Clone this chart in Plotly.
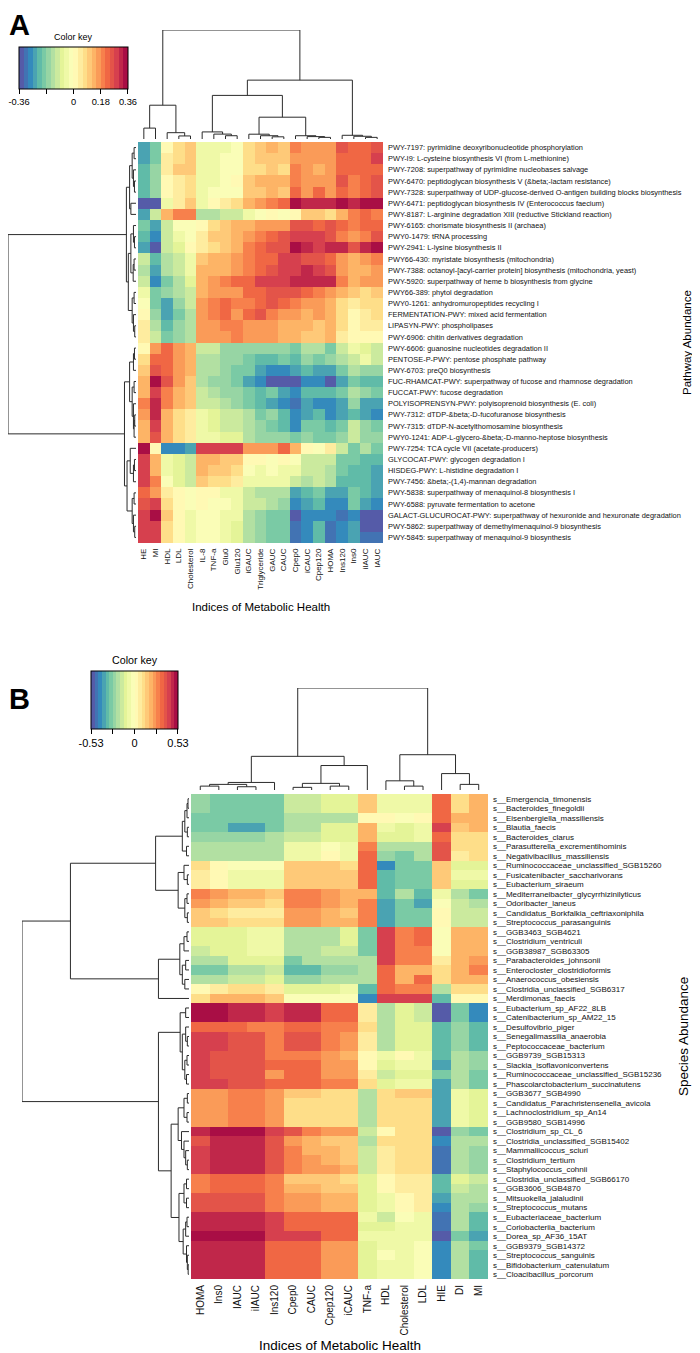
import numpy as np
import plotly.graph_objects as go

# the page puts the figure 8 px in from the top-left corner; pixel positions below are
# window pixels, so the figure itself is 8 px smaller than the window
W, H = 700, 1353
OFF = 8
FIG_W, FIG_H = W - OFF, H - OFF
FONT = "Liberation Sans, Arial, sans-serif"
LINE = "#2b2b2b"

SPECTRAL_REV = ["#5E4FA2", "#3288BD", "#66C2A5", "#ABDDA4", "#E6F598", "#FFFFBF",
                "#FEE08B", "#FDAE61", "#F46D43", "#D53E4F", "#9E0142"]
N_BANDS = 24

# ---------------- panel A: pathways ----------------
a_cols = ["HE", "MI", "HDL", "LDL", "Cholesterol", "IL-8", "TNF-a", "Glu0", "Glu120",
          "iGAUC", "Triglyceride", "GAUC", "CAUC", "Cpep0", "iCAUC", "Cpep120", "HOMA",
          "Ins120", "Ins0", "iIAUC", "IAUC"]

a_rows = [
    "PWY-7197: pyrimidine deoxyribonucleotide phosphorylation",
    "PWY-I9: L-cysteine biosynthesis VI (from L-methionine)",
    "PWY-7208: superpathway of pyrimidine nucleobases salvage",
    "PWY-6470: peptidoglycan biosynthesis V (&beta;-lactam resistance)",
    "PWY-7328: superpathway of UDP-glucose-derived O-antigen building blocks biosynthesis",
    "PWY-6471: peptidoglycan biosynthesis IV (Enterococcus faecium)",
    "PWY-8187: L-arginine degradation XIII (reductive Stickland reaction)",
    "PWY-6165: chorismate biosynthesis II (archaea)",
    "PWY0-1479: tRNA processing",
    "PWY-2941: L-lysine biosynthesis II",
    "PWY66-430: myristate biosynthesis (mitochondria)",
    "PWY-7388: octanoyl-[acyl-carrier protein] biosynthesis (mitochondria, yeast)",
    "PWY-5920: superpathway of heme b biosynthesis from glycine",
    "PWY66-389: phytol degradation",
    "PWY0-1261: anhydromuropeptides recycling I",
    "FERMENTATION-PWY: mixed acid fermentation",
    "LIPASYN-PWY: phospholipases",
    "PWY-6906: chitin derivatives degradation",
    "PWY-6606: guanosine nucleotides degradation II",
    "PENTOSE-P-PWY: pentose phosphate pathway",
    "PWY-6703: preQ0 biosynthesis",
    "FUC-RHAMCAT-PWY: superpathway of fucose and rhamnose degradation",
    "FUCCAT-PWY: fucose degradation",
    "POLYISOPRENSYN-PWY: polyisoprenoid biosynthesis (E. coli)",
    "PWY-7312: dTDP-&beta;-D-fucofuranose biosynthesis",
    "PWY-7315: dTDP-N-acetylthomosamine biosynthesis",
    "PWY0-1241: ADP-L-glycero-&beta;-D-manno-heptose biosynthesis",
    "PWY-7254: TCA cycle VII (acetate-producers)",
    "GLYCOCAT-PWY: glycogen degradation I",
    "HISDEG-PWY: L-histidine degradation I",
    "PWY-7456: &beta;-(1,4)-mannan degradation",
    "PWY-5838: superpathway of menaquinol-8 biosynthesis I",
    "PWY-6588: pyruvate fermentation to acetone",
    "GALACT-GLUCUROCAT-PWY: superpathway of hexuronide and hexuronate degradation",
    "PWY-5862: superpathway of demethylmenaquinol-9 biosynthesis",
    "PWY-5845: superpathway of menaquinol-9 biosynthesis",
]

a_vals = [
    [-0.27, -0.20, 0.02, 0.06, 0.09, -0.05, -0.06, -0.04, -0.02, 0.08, 0.10, 0.12, 0.09, 0.20, 0.17, 0.17, 0.18, 0.24, 0.23, 0.23, 0.25],
    [-0.26, -0.19, 0.03, 0.07, 0.10, -0.04, -0.05, -0.03, -0.02, 0.08, 0.11, 0.10, 0.10, 0.18, 0.17, 0.16, 0.16, 0.22, 0.22, 0.22, 0.27],
    [-0.24, -0.17, 0.04, 0.09, 0.11, -0.05, -0.05, -0.03, -0.01, 0.08, 0.08, 0.09, 0.07, 0.19, 0.16, 0.14, 0.17, 0.21, 0.22, 0.21, 0.23],
    [-0.24, -0.18, 0.02, 0.04, 0.07, -0.06, -0.04, -0.01, 0.00, 0.11, 0.12, 0.12, 0.12, 0.20, 0.17, 0.18, 0.16, 0.25, 0.20, 0.22, 0.26],
    [-0.22, -0.18, 0.00, 0.05, 0.06, -0.04, -0.03, -0.01, -0.02, 0.10, 0.11, 0.12, 0.10, 0.21, 0.18, 0.21, 0.17, 0.23, 0.20, 0.22, 0.24],
    [-0.33, -0.33, -0.04, 0.03, 0.09, -0.05, 0.01, 0.05, 0.08, 0.15, 0.18, 0.19, 0.23, 0.33, 0.30, 0.30, 0.30, 0.36, 0.31, 0.35, 0.35],
    [-0.25, -0.12, 0.14, 0.20, 0.20, -0.13, -0.13, -0.12, -0.10, -0.04, -0.02, 0.00, -0.02, 0.02, 0.10, 0.11, 0.08, 0.15, 0.20, 0.21, 0.20],
    [-0.20, -0.27, -0.10, -0.03, -0.01, 0.02, 0.07, 0.10, 0.12, 0.15, 0.17, 0.17, 0.18, 0.26, 0.25, 0.22, 0.25, 0.23, 0.20, 0.22, 0.22],
    [-0.22, -0.28, -0.12, -0.06, -0.03, 0.05, 0.09, 0.11, 0.13, 0.17, 0.20, 0.22, 0.24, 0.28, 0.27, 0.27, 0.25, 0.20, 0.17, 0.20, 0.25],
    [-0.27, -0.33, -0.12, -0.07, 0.00, 0.05, 0.07, 0.10, 0.14, 0.20, 0.22, 0.25, 0.26, 0.36, 0.32, 0.27, 0.32, 0.30, 0.25, 0.30, 0.33],
    [-0.12, -0.22, -0.13, -0.10, -0.05, 0.10, 0.12, 0.14, 0.16, 0.20, 0.21, 0.22, 0.27, 0.28, 0.26, 0.24, 0.22, 0.18, 0.14, 0.16, 0.20],
    [-0.13, -0.27, -0.15, -0.10, -0.06, 0.12, 0.14, 0.15, 0.18, 0.20, 0.22, 0.24, 0.27, 0.28, 0.30, 0.28, 0.24, 0.17, 0.15, 0.14, 0.16],
    [-0.10, -0.30, -0.20, -0.14, -0.07, 0.15, 0.17, 0.20, 0.22, 0.23, 0.27, 0.29, 0.29, 0.31, 0.31, 0.30, 0.31, 0.20, 0.15, 0.17, 0.18],
    [-0.05, -0.20, -0.18, -0.15, -0.11, 0.15, 0.17, 0.18, 0.18, 0.22, 0.22, 0.24, 0.26, 0.24, 0.22, 0.20, 0.18, 0.12, 0.10, 0.08, 0.09],
    [-0.02, -0.20, -0.26, -0.18, -0.12, 0.17, 0.20, 0.22, 0.19, 0.20, 0.22, 0.24, 0.22, 0.20, 0.16, 0.16, 0.12, 0.08, 0.03, 0.06, 0.07],
    [0.00, -0.18, -0.26, -0.20, -0.14, 0.17, 0.20, 0.23, 0.18, 0.22, 0.25, 0.20, 0.18, 0.18, 0.14, 0.18, 0.14, 0.06, 0.01, 0.05, 0.06],
    [0.03, -0.15, -0.24, -0.18, -0.14, 0.17, 0.17, 0.20, 0.20, 0.18, 0.18, 0.18, 0.14, 0.12, 0.14, 0.11, 0.12, 0.06, 0.00, 0.04, 0.03],
    [0.03, -0.12, -0.20, -0.18, -0.14, 0.17, 0.16, 0.17, 0.20, 0.17, 0.17, 0.17, 0.12, 0.12, 0.10, 0.10, 0.12, 0.05, 0.01, 0.02, 0.02],
    [0.02, 0.16, 0.22, 0.17, 0.12, -0.12, -0.12, -0.18, -0.18, -0.18, -0.16, -0.18, -0.18, -0.20, -0.15, -0.15, -0.20, -0.10, -0.06, -0.08, -0.10],
    [0.08, 0.22, 0.22, 0.18, 0.13, -0.13, -0.13, -0.18, -0.18, -0.20, -0.24, -0.22, -0.20, -0.22, -0.18, -0.20, -0.18, -0.15, -0.10, -0.06, -0.12],
    [0.10, 0.26, 0.23, 0.17, 0.13, -0.13, -0.14, -0.18, -0.20, -0.20, -0.27, -0.28, -0.28, -0.27, -0.22, -0.25, -0.27, -0.20, -0.14, -0.16, -0.17],
    [0.15, 0.33, 0.25, 0.17, 0.10, -0.13, -0.17, -0.18, -0.20, -0.26, -0.30, -0.33, -0.33, -0.35, -0.28, -0.28, -0.33, -0.25, -0.20, -0.22, -0.22],
    [0.14, 0.28, 0.20, 0.15, 0.10, -0.12, -0.14, -0.16, -0.18, -0.20, -0.22, -0.20, -0.25, -0.28, -0.22, -0.22, -0.24, -0.20, -0.14, -0.17, -0.20],
    [0.20, 0.30, 0.20, 0.14, 0.10, -0.12, -0.10, -0.15, -0.18, -0.20, -0.22, -0.25, -0.28, -0.32, -0.25, -0.28, -0.30, -0.25, -0.18, -0.27, -0.27],
    [0.17, 0.30, 0.15, 0.07, 0.05, -0.06, -0.08, -0.10, -0.10, -0.15, -0.20, -0.18, -0.22, -0.28, -0.25, -0.22, -0.30, -0.27, -0.24, -0.25, -0.30],
    [0.14, 0.27, 0.15, 0.06, 0.03, -0.06, -0.07, -0.10, -0.10, -0.14, -0.18, -0.20, -0.22, -0.28, -0.20, -0.20, -0.24, -0.20, -0.12, -0.18, -0.20],
    [0.15, 0.25, 0.15, 0.08, 0.05, -0.06, -0.05, -0.08, -0.08, -0.14, -0.16, -0.17, -0.18, -0.20, -0.16, -0.20, -0.20, -0.18, -0.12, -0.16, -0.18],
    [0.33, 0.02, -0.28, -0.28, -0.25, 0.28, 0.28, 0.28, 0.28, 0.16, 0.16, 0.16, 0.21, 0.15, 0.02, -0.02, 0.03, -0.12, -0.20, -0.14, -0.20],
    [0.28, 0.13, -0.06, -0.08, -0.12, 0.13, 0.14, 0.11, 0.10, 0.00, 0.00, -0.02, 0.00, -0.02, -0.12, -0.12, -0.12, -0.20, -0.20, -0.22, -0.24],
    [0.27, 0.15, -0.04, -0.07, -0.10, 0.12, 0.10, 0.10, 0.06, -0.02, -0.04, -0.03, -0.04, -0.06, -0.12, -0.12, -0.13, -0.20, -0.22, -0.22, -0.25],
    [0.28, 0.20, -0.03, -0.08, -0.12, 0.10, 0.07, 0.06, 0.05, -0.04, -0.05, -0.06, -0.05, -0.10, -0.13, -0.10, -0.14, -0.22, -0.22, -0.22, -0.27],
    [0.22, 0.17, 0.05, 0.00, -0.03, 0.00, 0.00, -0.04, -0.04, -0.12, -0.14, -0.14, -0.14, -0.27, -0.22, -0.20, -0.25, -0.26, -0.20, -0.24, -0.26],
    [0.24, 0.27, 0.08, 0.00, -0.02, 0.00, -0.01, -0.02, -0.05, -0.12, -0.12, -0.13, -0.16, -0.28, -0.26, -0.22, -0.28, -0.28, -0.20, -0.26, -0.28],
    [0.28, 0.33, 0.10, 0.02, -0.04, -0.02, -0.03, -0.04, -0.06, -0.15, -0.16, -0.20, -0.20, -0.33, -0.28, -0.28, -0.30, -0.32, -0.28, -0.33, -0.33],
    [0.28, 0.28, 0.08, 0.02, -0.04, -0.02, -0.02, -0.05, -0.07, -0.15, -0.18, -0.20, -0.20, -0.32, -0.28, -0.24, -0.32, -0.30, -0.26, -0.33, -0.33],
    [0.28, 0.28, 0.08, 0.02, -0.05, -0.01, -0.02, -0.05, -0.08, -0.13, -0.17, -0.20, -0.20, -0.32, -0.28, -0.24, -0.32, -0.30, -0.26, -0.32, -0.32],
]

a_lim = 0.36
a_key_ticks = [-0.3599, -0.18, 0, 0.18, 0.3599]
a_key_text = ["-0.36", "", "0", "0.18", "0.36"]

# trees: (merge height, left, right); leaves are column / row indices
a_col_tree = (1.0,
              (0.31, (0.10, 0, 1), (0.058, 2, (0.028, 3, 4))),
              (0.54,
               (0.40,
                (0.065, 5, (0.045, 6, (0.03, 7, 8))),
                (0.20, (0.044, 9, (0.03, 10, (0.02, 11, 12))),
                 (0.03, 13, (0.022, 14, (0.015, 15, 16))))),
               (0.034, 17, (0.025, 18, (0.015, 19, 20)))))

a_row_tree = (1.0,
              (0.075,
               (0.05, (0.03, (0.015, 0, 1), (0.02, 2, (0.012, 3, 4))), (0.04, 5, 6)),
               (0.06, (0.04, (0.02, 7, (0.012, 8, 9)), (0.022, (0.015, 10, 11), 12)),
                (0.03, (0.015, 13, 14), (0.02, 15, (0.01, 16, 17))))),
              (0.09,
               (0.05, (0.02, (0.012, 18, 19), 20),
                (0.03, (0.015, 21, 22), (0.02, 23, (0.015, (0.01, 24, 25), 26)))),
               (0.07, (0.045, 27, (0.02, (0.012, 28, 29), 30)),
                (0.03, (0.015, 31, 32), (0.02, 33, (0.01, 34, 35))))))

# ---------------- panel B: species ----------------
b_cols = ["HOMA", "Ins0", "IAUC", "iIAUC", "Ins120", "Cpep0", "CAUC", "Cpep120", "iCAUC",
          "TNF-a", "HDL", "Cholesterol", "LDL", "HIE", "DI", "MI"]

b_rows = [
    "s__Emergencia_timonensis", "s__Bacteroides_finegoldii", "s__Eisenbergiella_massiliensis",
    "s__Blautia_faecis", "s__Bacteroides_clarus", "s__Parasutterella_excrementihominis",
    "s__Negativibacillus_massiliensis", "s__Ruminococcaceae_unclassified_SGB15260",
    "s__Fusicatenibacter_saccharivorans", "s__Eubacterium_siraeum",
    "s__Mediterraneibacter_glycyrrhizinilyticus", "s__Odoribacter_laneus",
    "s__Candidatus_Borkfalkia_ceftriaxoniphila", "s__Streptococcus_parasanguinis",
    "s__GGB3463_SGB4621", "s__Clostridium_ventriculi", "s__GGB38987_SGB63305",
    "s__Parabacteroides_johnsonii", "s__Enterocloster_clostridioformis",
    "s__Anaerococcus_obesiensis", "s__Clostridia_unclassified_SGB6317", "s__Merdimonas_faecis",
    "s__Eubacterium_sp_AF22_8LB", "s__Catenibacterium_sp_AM22_15", "s__Desulfovibrio_piger",
    "s__Senegalimassilia_anaerobia", "s__Peptococcaceae_bacterium", "s__GGB9739_SGB15313",
    "s__Slackia_isoflavoniconvertens", "s__Ruminococcaceae_unclassified_SGB15236",
    "s__Phascolarctobacterium_succinatutens", "s__GGB3677_SGB4990",
    "s__Candidatus_Parachristensenella_avicola", "s__Lachnoclostridium_sp_An14",
    "s__GGB9580_SGB14996", "s__Clostridium_sp_CL_6", "s__Clostridia_unclassified_SGB15402",
    "s__Mammaliicoccus_sciuri", "s__Clostridium_tertium", "s__Staphylococcus_cohnii",
    "s__Clostridia_unclassified_SGB66170", "s__GGB3606_SGB4870", "s__Mitsuokella_jalaludinii",
    "s__Streptococcus_mutans", "s__Eubacteriaceae_bacterium", "s__Coriobacteriia_bacterium",
    "s__Dorea_sp_AF36_15AT", "s__GGB9379_SGB14372", "s__Streptococcus_sanguinis",
    "s__Bifidobacterium_catenulatum", "s__Cloacibacillus_porcorum",
]

b_vals = [
    [-0.25, -0.30, -0.30, -0.30, -0.27, -0.17, -0.17, -0.12, -0.12, 0.14, -0.05, -0.08, -0.05, 0.33, 0.13, 0.18],
    [-0.25, -0.30, -0.30, -0.30, -0.27, -0.17, -0.17, -0.12, -0.12, 0.14, -0.05, -0.08, -0.08, 0.33, 0.13, 0.18],
    [-0.30, -0.30, -0.30, -0.30, -0.27, -0.20, -0.20, -0.18, -0.18, 0.03, 0.02, -0.03, 0.00, 0.33, 0.18, 0.22],
    [-0.30, -0.30, -0.36, -0.36, -0.27, -0.18, -0.18, -0.12, -0.12, 0.20, -0.08, -0.10, -0.08, 0.42, 0.14, 0.18],
    [-0.25, -0.23, -0.23, -0.23, -0.22, -0.14, -0.14, -0.10, -0.10, 0.18, -0.10, -0.12, -0.06, 0.33, 0.12, 0.13],
    [-0.22, -0.22, -0.22, -0.22, -0.20, -0.06, -0.06, -0.02, -0.05, 0.28, -0.20, -0.20, -0.20, 0.38, 0.10, 0.13],
    [-0.20, -0.20, -0.22, -0.22, -0.20, -0.05, -0.05, 0.00, -0.06, 0.32, -0.24, -0.30, -0.22, 0.36, 0.05, 0.12],
    [0.10, 0.03, -0.03, -0.03, -0.03, 0.17, 0.17, 0.17, 0.12, 0.33, -0.40, -0.30, -0.30, 0.14, -0.10, -0.10],
    [0.08, 0.02, -0.05, -0.05, -0.05, 0.14, 0.14, 0.14, 0.14, 0.33, -0.32, -0.30, -0.30, 0.16, -0.08, -0.08],
    [0.08, 0.02, -0.05, -0.05, -0.05, 0.14, 0.14, 0.14, 0.14, 0.33, -0.32, -0.27, -0.27, 0.14, -0.10, -0.12],
    [0.30, 0.24, 0.20, 0.20, 0.16, 0.30, 0.30, 0.25, 0.20, 0.20, -0.32, -0.22, -0.32, -0.06, -0.20, -0.27],
    [0.24, 0.20, 0.15, 0.15, 0.10, 0.27, 0.27, 0.24, 0.18, 0.27, -0.36, -0.27, -0.36, -0.03, -0.15, -0.20],
    [0.16, 0.10, 0.06, 0.06, 0.06, 0.24, 0.24, 0.22, 0.16, 0.27, -0.36, -0.27, -0.27, 0.04, -0.14, -0.14],
    [0.16, 0.14, 0.10, 0.10, 0.10, 0.25, 0.25, 0.20, 0.18, 0.27, -0.36, -0.27, -0.27, 0.02, -0.14, -0.14],
    [-0.12, -0.10, -0.10, -0.06, -0.06, -0.18, -0.18, -0.18, -0.12, -0.30, 0.40, 0.30, 0.35, -0.03, 0.18, 0.18],
    [-0.12, -0.10, -0.10, -0.06, -0.06, -0.18, -0.18, -0.18, -0.12, -0.30, 0.40, 0.30, 0.35, -0.03, 0.18, 0.18],
    [-0.14, -0.12, -0.10, -0.08, -0.08, -0.20, -0.20, -0.17, -0.15, -0.30, 0.40, 0.30, 0.30, -0.03, 0.18, 0.18],
    [-0.18, -0.18, -0.12, -0.12, -0.10, -0.27, -0.22, -0.20, -0.20, -0.22, 0.40, 0.30, 0.30, 0.05, 0.18, 0.25],
    [-0.27, -0.27, -0.20, -0.20, -0.16, -0.32, -0.32, -0.24, -0.24, -0.20, 0.35, 0.22, 0.22, 0.12, 0.20, 0.30],
    [-0.20, -0.20, -0.17, -0.17, -0.13, -0.25, -0.25, -0.22, -0.18, -0.18, 0.35, 0.22, 0.32, 0.12, 0.20, 0.20],
    [0.02, 0.08, 0.10, 0.10, 0.06, -0.12, -0.12, -0.12, -0.08, -0.32, 0.35, 0.30, 0.30, -0.20, 0.10, 0.10],
    [0.13, 0.20, 0.20, 0.20, 0.15, -0.03, -0.03, -0.03, -0.03, -0.42, 0.40, 0.40, 0.40, -0.35, 0.02, 0.02],
    [0.53, 0.53, 0.48, 0.48, 0.42, 0.45, 0.45, 0.35, 0.35, 0.08, -0.20, -0.12, -0.15, -0.50, -0.30, -0.42],
    [0.53, 0.53, 0.48, 0.48, 0.42, 0.45, 0.45, 0.35, 0.35, 0.08, -0.20, -0.12, -0.15, -0.50, -0.30, -0.42],
    [0.35, 0.35, 0.35, 0.30, 0.30, 0.35, 0.35, 0.30, 0.30, 0.10, -0.20, -0.12, -0.12, -0.32, -0.24, -0.32],
    [0.42, 0.42, 0.37, 0.37, 0.30, 0.38, 0.38, 0.30, 0.25, 0.08, -0.20, -0.12, -0.12, -0.32, -0.24, -0.32],
    [0.42, 0.42, 0.37, 0.37, 0.30, 0.38, 0.38, 0.30, 0.25, 0.08, -0.20, -0.12, -0.12, -0.32, -0.24, -0.32],
    [0.40, 0.38, 0.38, 0.38, 0.30, 0.30, 0.30, 0.24, 0.22, 0.03, -0.06, 0.00, -0.06, -0.32, -0.20, -0.25],
    [0.40, 0.38, 0.38, 0.38, 0.35, 0.35, 0.35, 0.26, 0.26, 0.04, -0.12, -0.06, -0.08, -0.38, -0.20, -0.24],
    [0.40, 0.38, 0.38, 0.38, 0.26, 0.32, 0.32, 0.26, 0.26, 0.08, -0.16, -0.10, -0.10, -0.30, -0.20, -0.27],
    [0.42, 0.42, 0.38, 0.38, 0.33, 0.33, 0.33, 0.28, 0.28, 0.10, -0.12, -0.08, -0.08, -0.36, -0.20, -0.30],
    [0.25, 0.25, 0.30, 0.30, 0.24, 0.14, 0.14, 0.10, 0.10, -0.20, 0.12, 0.17, 0.14, -0.36, -0.08, -0.10],
    [0.25, 0.25, 0.30, 0.30, 0.24, 0.12, 0.12, 0.10, 0.10, -0.20, 0.10, 0.12, 0.12, -0.36, -0.08, -0.10],
    [0.25, 0.25, 0.30, 0.30, 0.24, 0.12, 0.12, 0.10, 0.10, -0.20, 0.10, 0.12, 0.12, -0.36, -0.08, -0.10],
    [0.25, 0.25, 0.30, 0.30, 0.24, 0.12, 0.12, 0.10, 0.10, -0.20, 0.10, 0.12, 0.12, -0.36, -0.08, -0.10],
    [0.48, 0.53, 0.53, 0.53, 0.42, 0.38, 0.30, 0.24, 0.24, -0.15, 0.00, 0.10, 0.12, -0.50, -0.25, -0.30],
    [0.38, 0.45, 0.45, 0.45, 0.38, 0.24, 0.20, 0.17, 0.17, -0.20, 0.10, 0.10, 0.12, -0.42, -0.20, -0.22],
    [0.40, 0.45, 0.45, 0.45, 0.38, 0.27, 0.20, 0.20, 0.17, -0.17, 0.06, 0.10, 0.12, -0.46, -0.20, -0.25],
    [0.40, 0.45, 0.45, 0.45, 0.38, 0.27, 0.24, 0.20, 0.17, -0.17, 0.06, 0.10, 0.12, -0.46, -0.20, -0.25],
    [0.40, 0.45, 0.45, 0.45, 0.38, 0.27, 0.24, 0.24, 0.20, -0.17, 0.06, 0.10, 0.12, -0.46, -0.20, -0.25],
    [0.30, 0.33, 0.33, 0.33, 0.28, 0.17, 0.17, 0.14, 0.12, -0.12, 0.02, 0.06, 0.08, -0.33, -0.12, -0.15],
    [0.30, 0.33, 0.33, 0.33, 0.28, 0.20, 0.20, 0.16, 0.16, -0.10, 0.00, 0.05, 0.08, -0.33, -0.14, -0.18],
    [0.36, 0.36, 0.38, 0.38, 0.30, 0.26, 0.26, 0.20, 0.20, -0.10, -0.06, 0.03, 0.06, -0.38, -0.18, -0.22],
    [0.36, 0.38, 0.38, 0.38, 0.30, 0.26, 0.26, 0.22, 0.22, -0.10, -0.06, 0.03, 0.06, -0.42, -0.18, -0.25],
    [0.48, 0.48, 0.48, 0.48, 0.40, 0.35, 0.35, 0.32, 0.32, -0.08, -0.14, -0.02, -0.06, -0.48, -0.22, -0.33],
    [0.48, 0.48, 0.48, 0.45, 0.40, 0.35, 0.35, 0.32, 0.32, -0.10, -0.10, -0.06, -0.06, -0.46, -0.22, -0.33],
    [0.53, 0.53, 0.53, 0.53, 0.42, 0.40, 0.40, 0.32, 0.32, -0.08, -0.08, -0.06, -0.06, -0.50, -0.30, -0.36],
    [0.45, 0.45, 0.45, 0.45, 0.35, 0.32, 0.32, 0.25, 0.25, -0.10, -0.06, -0.06, -0.04, -0.42, -0.18, -0.30],
    [0.45, 0.45, 0.45, 0.45, 0.35, 0.32, 0.32, 0.25, 0.25, -0.10, -0.03, -0.06, -0.02, -0.42, -0.20, -0.32],
    [0.45, 0.45, 0.45, 0.45, 0.35, 0.32, 0.32, 0.25, 0.25, -0.10, -0.06, -0.06, -0.02, -0.42, -0.20, -0.32],
    [0.45, 0.45, 0.45, 0.45, 0.35, 0.32, 0.32, 0.25, 0.25, -0.10, -0.06, -0.06, -0.02, -0.42, -0.20, -0.32],
]

b_lim = 0.53
b_key_ticks = [-0.5299, -0.265, 0, 0.265, 0.5299]
b_key_text = ["-0.53", "", "0", "", "0.53"]

b_col_tree = (1.0,
              (0.33,
               (0.074, (0.055, (0.038, 0, 1), (0.032, 2, 3)), 4),
               (0.24, (0.065, (0.026, 5, 6), (0.038, 7, 8)), 9)),
              (0.346, (0.09, 10, (0.038, 11, 12)), (0.161, 13, (0.055, 14, 15))))

b_row_tree = (1.0,
              (0.71,
               (0.2,
                (0.04, (0.025, (0.012, (0.006, 0, 1), 2), (0.01, 3, 4)), (0.015, 5, 6)),
                (0.065, (0.03, 7, (0.01, 8, 9)), (0.025, (0.012, 10, 11), (0.01, 12, 13)))),
               (0.183,
                (0.055, (0.03, (0.012, 14, 15), 16), (0.04, (0.02, 17, 18), (0.025, 19, 20))),
                21)),
              (0.183,
               (0.053, (0.02, 22, 23),
                (0.04, (0.02, 24, (0.01, 25, 26)), (0.025, (0.012, 27, 28), (0.015, 29, 30)))),
               (0.107,
                (0.065, (0.03, (0.01, 31, 32), (0.012, 33, 34)),
                 (0.045, 35, (0.03, 36, (0.02, 37, (0.01, 38, 39))))),
                (0.06, (0.03, (0.015, 40, 41), (0.015, 42, 43)),
                 (0.035, (0.02, (0.012, 44, 45), 46), (0.015, 47, (0.01, 48, (0.005, 49, 50))))))))


def px_x(p):
    return max(p - OFF, 0) / FIG_W


def px_y(p):
    return 1 - max(p - OFF, 0) / FIG_H


def stepped_scale(n):
    base = np.array([[int(c[i:i + 2], 16) for i in (1, 3, 5)] for c in SPECTRAL_REV], float)
    pos = np.linspace(0, 1, len(base))
    out = []
    for k in range(n):
        t = (k + 0.5) / n
        rgb = [int(round(np.interp(t, pos, base[:, j]))) for j in range(3)]
        col = "rgb(%d,%d,%d)" % tuple(rgb)
        out += [[k / n, col], [(k + 1) / n, col]]
    return out


def dendro_lines(tree):
    pos, hgt = [], []

    def walk(node):
        if isinstance(node, int):
            return float(node), 0.0
        h, left, right = node
        p1, h1 = walk(left)
        p2, h2 = walk(right)
        pos.extend([p1, p1, p2, p2, None])
        hgt.extend([h1, h, h, h2, None])
        return (p1 + p2) / 2, h

    walk(tree)
    return pos, hgt


def esc(s):
    return s.replace("&", "&amp;")


scale = stepped_scale(N_BANDS)
fig = go.Figure()


def add_panel(cols, rows, vals, lim, key_ticks, key_text, col_tree, row_tree, ax, box, cdend_y,
              rdend_x, key, col_font, row_font, key_font):
    n_c, n_r = len(cols), len(rows)
    i0 = ax
    xh, yh = (f"x{i0}", f"y{i0}") if i0 > 1 else ("x", "y")
    fig.add_trace(go.Heatmap(
        z=vals, x=list(range(n_c)), y=list(range(n_r)), colorscale=scale, zmin=-lim, zmax=lim,
        xaxis=xh, yaxis=yh, hoverinfo="skip",
        colorbar=dict(
            orientation="h", x=px_x((key[0] + key[1]) / 2), xanchor="center",
            len=(key[1] - key[0]) / FIG_W, lenmode="fraction",
            y=px_y(key[2]), yanchor="top", thickness=key[3] - key[2], thicknessmode="pixels",
            xpad=0, ypad=0, outlinewidth=1, outlinecolor="#000",
            tickvals=key_ticks, ticktext=key_text, ticks="outside", ticklen=5,
            tickcolor="#000", ticklabeloverflow="allow",
            tickfont=dict(size=key_font, color="#000", family=FONT),
        ),
    ))
    fig.add_annotation(text="Color key", x=px_x((key[0] + key[1]) / 2), y=px_y(key[2] - 3),
                       xref="paper", yref="paper", xanchor="center", yanchor="bottom",
                       showarrow=False, font=dict(size=key_font - 0.3, color="#000", family=FONT))
    cx, cy = dendro_lines(col_tree)
    fig.add_trace(go.Scatter(x=cx, y=cy, mode="lines", line=dict(color=LINE, width=1),
                             xaxis=f"x{i0 + 1}", yaxis=f"y{i0 + 1}", hoverinfo="skip"))
    ry, rx = dendro_lines(row_tree)
    fig.add_trace(go.Scatter(x=rx, y=ry, mode="lines", line=dict(color=LINE, width=1),
                             xaxis=f"x{i0 + 2}", yaxis=f"y{i0 + 2}", hoverinfo="skip"))

    xd = [px_x(box[0]), px_x(box[1])]
    yd = [px_y(box[3]), px_y(box[2])]
    hide = dict(visible=False, showgrid=False, zeroline=False)
    k = "" if i0 == 1 else str(i0)
    fig.update_layout(**{
        f"xaxis{k}": dict(domain=xd, range=[-0.5, n_c - 0.5], anchor=yh, tickvals=list(range(n_c)),
                          ticktext=cols, tickangle=-90, ticks="", showgrid=False, zeroline=False,
                          showline=False, ticklabelstandoff=3,
                          tickfont=dict(size=col_font, color="#111", family=FONT)),
        f"yaxis{k}": dict(domain=yd, range=[n_r - 0.5, -0.5], anchor=xh, side="right",
                          tickvals=list(range(n_r)), ticktext=[esc(r) for r in rows], ticks="",
                          showgrid=False, zeroline=False, showline=False, ticklabelstandoff=4,
                          tickfont=dict(size=row_font, color="#111", family=FONT)),
        f"xaxis{i0 + 1}": dict(domain=xd, range=[-0.5, n_c - 0.5], anchor=f"y{i0 + 1}", **hide),
        f"yaxis{i0 + 1}": dict(domain=[px_y(cdend_y[1]), px_y(cdend_y[0])], range=[0, 1],
                               anchor=f"x{i0 + 1}", **hide),
        f"xaxis{i0 + 2}": dict(domain=[px_x(rdend_x[0]), px_x(rdend_x[1])], range=[1, 0],
                               anchor=f"y{i0 + 2}", **hide),
        f"yaxis{i0 + 2}": dict(domain=yd, range=[n_r - 0.5, -0.5], anchor=f"x{i0 + 2}", **hide),
    })


# panel A: heatmap box (x0, x1, y0, y1) in window pixels
add_panel(a_cols, a_rows, a_vals, a_lim, a_key_ticks, a_key_text, a_col_tree, a_row_tree,
          ax=1, box=(138, 383, 142, 543), cdend_y=(30, 139), rdend_x=(8, 136),
          key=(19, 128, 47, 89), col_font=8, row_font=7.4, key_font=9.3)
# panel B
add_panel(b_cols, b_rows, b_vals, b_lim, b_key_ticks, b_key_text, b_col_tree, b_row_tree,
          ax=4, box=(191, 488, 794, 1279), cdend_y=(688, 790), rdend_x=(22, 189),
          key=(91, 178, 671, 729), col_font=10, row_font=8, key_font=11)

notes = [
    dict(text="<b>A</b>", x=px_x(8), y=1.0, xanchor="left", yanchor="top", size=29),
    dict(text="<b>B</b>", x=px_x(8), y=px_y(699), xanchor="left", yanchor="middle", size=29),
    dict(text="Indices of Metabolic Health", x=px_x(260.5), y=px_y(607), xanchor="center",
         yanchor="middle", size=11.5),
    dict(text="Indices of Metabolic Health", x=px_x(339.5), y=px_y(1345), xanchor="center",
         yanchor="middle", size=13.5),
    dict(text="Pathway Abundance", x=px_x(687), y=px_y(343), xanchor="center", yanchor="middle",
         size=11.5, angle=-90),
    dict(text="Species Abundance", x=px_x(683), y=px_y(1037), xanchor="center", yanchor="middle",
         size=13.5, angle=-90),
]
for n in notes:
    fig.add_annotation(text=n["text"], x=n["x"], y=n["y"], xref="paper", yref="paper",
                       xanchor=n["xanchor"], yanchor=n["yanchor"], showarrow=False,
                       textangle=n.get("angle", 0), borderpad=0,
                       font=dict(size=n["size"], color="#000", family=FONT))

fig.update_layout(width=FIG_W, height=FIG_H, margin=dict(l=0, r=0, t=0, b=0), showlegend=False,
                  paper_bgcolor="white", plot_bgcolor="white", font=dict(family=FONT))

fig.write_html("out.html")
